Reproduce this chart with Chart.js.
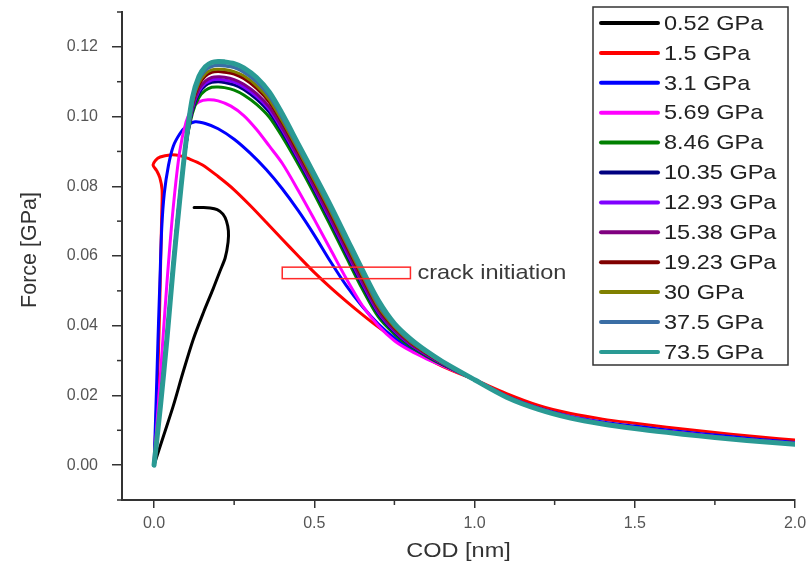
<!DOCTYPE html>
<html>
<head>
<meta charset="utf-8">
<script src="https://cdn.jsdelivr.net/npm/chart.js@4.4.1/dist/chart.umd.min.js"></script>
<style>
  html, body { margin: 0; padding: 0; background: #ffffff; }
  #wrap { width: 808px; height: 579px; }
</style>
</head>
<body>
<div id="wrap"><canvas id="chart" width="808" height="579"></canvas></div>
<script>
// Force vs. crack opening displacement for several stiffness values

const seriesLabels = ['0.52 GPa', '1.5 GPa', '3.1 GPa', '5.69 GPa', '8.46 GPa', '10.35 GPa',
                      '12.93 GPa', '15.38 GPa', '19.23 GPa', '30 GPa', '37.5 GPa', '73.5 GPa'];

// COD [nm] / Force [GPa] samples per curve
const cod_052   = [0, 0.03, 0.06, 0.09, 0.122, 0.155, 0.184, 0.205, 0.222, 0.231, 0.232, 0.226, 0.215, 0.197, 0.175, 0.150, 0.125];
const force_052 = [0, 0.0085, 0.0170, 0.0265, 0.0360, 0.0440, 0.0505, 0.0555, 0.0595, 0.0640, 0.0672, 0.0700, 0.0720, 0.0733, 0.0738, 0.0739, 0.0739];

const cod_15   = [0, 0.006, 0.012, 0.017, 0.021, 0.024, 0.025, 0.018, 0.008, -0.003, 0.005, 0.019, 0.05, 0.08, 0.106, 0.15, 0.20, 0.25, 0.30, 0.35, 0.40,
                  0.45, 0.50, 0.55, 0.60, 0.65, 0.70, 0.75, 0.80, 0.90, 1.0, 1.1, 1.2, 1.3, 1.4, 1.5, 1.6, 1.7, 1.8, 1.9, 2.0];
const force_15 = [0, 0.012, 0.027, 0.043, 0.060, 0.072, 0.079, 0.0825, 0.0845, 0.0861, 0.0875, 0.0884, 0.0890, 0.0888, 0.0880, 0.0862, 0.0828, 0.0790, 0.0745, 0.0697, 0.0648,
                  0.0600, 0.0553, 0.0510, 0.0470, 0.0432, 0.0396, 0.0363, 0.0333, 0.0283, 0.0245, 0.0205, 0.0171, 0.0148, 0.0132, 0.0120, 0.0109, 0.0099, 0.0089, 0.0080, 0.0072];

const cod_31   = [0, 0.005, 0.010, 0.014, 0.018, 0.024, 0.032, 0.045, 0.06, 0.08, 0.10, 0.128, 0.16, 0.20, 0.25, 0.30, 0.35, 0.40, 0.45, 0.50,
                  0.55, 0.60, 0.65, 0.70, 0.75, 0.80, 0.90, 1.0, 1.1, 1.2, 1.3, 1.4, 1.5, 1.6, 1.7, 1.8, 1.9, 2.0];
const force_31 = [0, 0.014, 0.029, 0.041, 0.052, 0.068, 0.078, 0.086, 0.0915, 0.0950, 0.0972, 0.0985, 0.0980, 0.0965, 0.0935, 0.0895, 0.0848, 0.0793, 0.0730, 0.0660,
                  0.0585, 0.0515, 0.0455, 0.0405, 0.0365, 0.0335, 0.0288, 0.0245, 0.0198, 0.0164, 0.0140, 0.0124, 0.0112, 0.0101, 0.0091, 0.0082, 0.0073, 0.0065];

const cod_569   = [0, 0.02, 0.04, 0.06, 0.08, 0.10, 0.12, 0.14, 0.168, 0.20, 0.24, 0.28, 0.32, 0.36, 0.40, 0.45, 0.50, 0.55, 0.60, 0.65,
                   0.70, 0.75, 0.80, 0.85, 0.90, 1.0, 1.1, 1.2, 1.3, 1.4, 1.5, 1.6, 1.7, 1.8, 1.9, 2.0];
const force_569 = [0, 0.026, 0.052, 0.074, 0.090, 0.0985, 0.1025, 0.1042, 0.1048, 0.1045, 0.1030, 0.1003, 0.0963, 0.0915, 0.0866, 0.0788, 0.0705, 0.0620, 0.0535, 0.0458,
                   0.0400, 0.0357, 0.0328, 0.0305, 0.0285, 0.0246, 0.0197, 0.0163, 0.0138, 0.0121, 0.0108, 0.0097, 0.0087, 0.0078, 0.0070, 0.0063];

// the stiffer materials share one COD grid
const cod_stiff = [0, 0.02, 0.04, 0.06, 0.08, 0.10, 0.12, 0.14, 0.16, 0.18, 0.20, 0.22, 0.25, 0.28, 0.32, 0.36, 0.40, 0.45, 0.50, 0.55,
                   0.60, 0.65, 0.70, 0.75, 0.80, 0.85, 0.90, 1.0, 1.1, 1.2, 1.3, 1.4, 1.5, 1.6, 1.7, 1.8, 1.9, 2.0];
const force_846  = [0, 0.018, 0.037, 0.058, 0.077, 0.092, 0.101, 0.1055, 0.1075, 0.1084, 0.1085, 0.1083, 0.1076, 0.1062, 0.1035, 0.0998, 0.0942, 0.0863, 0.0778, 0.0688,
                    0.0596, 0.0505, 0.0425, 0.0376, 0.0340, 0.0312, 0.0288, 0.0245, 0.0197, 0.0162, 0.0137, 0.0120, 0.0107, 0.0096, 0.0086, 0.0077, 0.0069, 0.0062];
const force_1035 = [0, 0.0178, 0.0368, 0.0578, 0.0768, 0.0922, 0.1019, 0.1067, 0.1089, 0.1098, 0.1100, 0.1098, 0.1091, 0.1078, 0.1050, 0.1012, 0.0955, 0.0875, 0.0789, 0.0700,
                    0.0607, 0.0516, 0.0434, 0.0382, 0.0344, 0.0315, 0.0290, 0.0245, 0.0197, 0.0162, 0.0137, 0.0120, 0.0107, 0.0096, 0.0086, 0.0077, 0.0069, 0.0062];
const force_1293 = [0, 0.0178, 0.0368, 0.0578, 0.0768, 0.0922, 0.1024, 0.1073, 0.1095, 0.1105, 0.1107, 0.1105, 0.1099, 0.1085, 0.1058, 0.1020, 0.0962, 0.0880, 0.0795, 0.0705,
                    0.0613, 0.0522, 0.0438, 0.0385, 0.0346, 0.0317, 0.0291, 0.0245, 0.0197, 0.0162, 0.0137, 0.0120, 0.0107, 0.0096, 0.0086, 0.0077, 0.0069, 0.0062];
const force_1538 = [0, 0.0178, 0.0368, 0.0578, 0.0768, 0.0922, 0.1028, 0.1079, 0.1102, 0.1112, 0.1114, 0.1113, 0.1106, 0.1093, 0.1066, 0.1027, 0.0968, 0.0886, 0.0800, 0.0711,
                    0.0619, 0.0527, 0.0442, 0.0388, 0.0348, 0.0318, 0.0292, 0.0245, 0.0197, 0.0162, 0.0137, 0.0120, 0.0107, 0.0096, 0.0086, 0.0077, 0.0069, 0.0062];
const force_1923 = [0, 0.0177, 0.0367, 0.0577, 0.0767, 0.0923, 0.1037, 0.1091, 0.1116, 0.1127, 0.1129, 0.1127, 0.1122, 0.1109, 0.1081, 0.1041, 0.0982, 0.0898, 0.0812, 0.0723,
                    0.0630, 0.0538, 0.0451, 0.0394, 0.0352, 0.0321, 0.0293, 0.0245, 0.0196, 0.0161, 0.0136, 0.0119, 0.0106, 0.0095, 0.0085, 0.0076, 0.0068, 0.0061];
const force_30   = [0, 0.0176, 0.0366, 0.0576, 0.0766, 0.0924, 0.1042, 0.1097, 0.1123, 0.1134, 0.1136, 0.1135, 0.1129, 0.1117, 0.1089, 0.1048, 0.0988, 0.0904, 0.0817, 0.0729,
                    0.0636, 0.0544, 0.0455, 0.0397, 0.0354, 0.0323, 0.0294, 0.0245, 0.0196, 0.0161, 0.0136, 0.0119, 0.0106, 0.0095, 0.0085, 0.0076, 0.0068, 0.0061];
const force_375  = [0, 0.0175, 0.0365, 0.0575, 0.0765, 0.0925, 0.1048, 0.1106, 0.1133, 0.1144, 0.1147, 0.1146, 0.1141, 0.1128, 0.1100, 0.1059, 0.0998, 0.0912, 0.0826, 0.0737,
                    0.0644, 0.0552, 0.0462, 0.0402, 0.0357, 0.0325, 0.0296, 0.0245, 0.0196, 0.0161, 0.0136, 0.0119, 0.0106, 0.0095, 0.0085, 0.0076, 0.0068, 0.0061];
const force_735  = [0, 0.017, 0.036, 0.057, 0.076, 0.093, 0.1055, 0.1115, 0.1143, 0.1155, 0.1158, 0.1157, 0.1152, 0.1140, 0.1112, 0.1070, 0.1008, 0.0921, 0.0834, 0.0746,
                    0.0653, 0.0560, 0.0472, 0.0406, 0.0362, 0.0327, 0.0297, 0.0245, 0.0195, 0.0160, 0.0135, 0.0118, 0.0105, 0.0094, 0.0084, 0.0075, 0.0067, 0.0060];

// axis ticks
const xMajorTicks = [0, 0.5, 1.0, 1.5, 2.0];
const xMinorTicks = [0.25, 0.75, 1.25, 1.75];
const yMajorTicks = [0, 0.02, 0.04, 0.06, 0.08, 0.10, 0.12];
const yMinorTicks = [-0.01, 0.01, 0.03, 0.05, 0.07, 0.09, 0.11, 0.13];

// marked region for crack initiation
const crackCod   = [0.4, 0.8];
const crackForce = [0.0535, 0.0568];
const crackText  = 'crack initiation';

const curves = [
  [cod_052, force_052], [cod_15, force_15], [cod_31, force_31], [cod_569, force_569],
  [cod_stiff, force_846], [cod_stiff, force_1035], [cod_stiff, force_1293], [cod_stiff, force_1538],
  [cod_stiff, force_1923], [cod_stiff, force_30], [cod_stiff, force_375], [cod_stiff, force_735]
];

const lineColors = ['#000000', '#ff0000', '#0000ff', '#ff00ff', '#008000', '#000080',
                    '#8000ff', '#800080', '#800000', '#808000', '#3a6ea5', '#2a9a94'];
const lineWidths = [3, 3, 3, 3, 3, 3, 3, 3, 3, 3, 3.5, 5];

const FONT = '"Liberation Sans", Arial, Helvetica, sans-serif';

// text drawn slightly widened, the way the labels of this figure are set
function wideText(ctx, text, x, y, size, stretch, align) {
  ctx.save();
  ctx.font = size + 'px ' + FONT;
  ctx.textBaseline = 'middle';
  ctx.textAlign = 'left';
  const w = ctx.measureText(text).width * stretch;
  let left = x;
  if (align === 'center') left = x - w / 2;
  ctx.translate(left, y);
  ctx.scale(stretch, 1);
  ctx.fillText(text, 0, 0);
  ctx.restore();
}

const datasets = curves.map(([xs, ys], i) => ({
  label: seriesLabels[i],
  data: xs.map((x, k) => ({ x: x, y: ys[k] })),
  showLine: true,
  borderColor: lineColors[i],
  backgroundColor: lineColors[i],
  borderWidth: lineWidths[i],
  pointRadius: 0,
  tension: 0.3,
  borderJoinStyle: 'round',
  borderCapStyle: 'round',
  order: curves.length - 1 - i
}));

const decor = {
  id: 'decor',
  afterDatasetsDraw(chart) {
    const ctx = chart.ctx, sx = chart.scales.x, sy = chart.scales.y;
    ctx.save();
    // crack initiation marker
    const x0 = sx.getPixelForValue(crackCod[0]), x1 = sx.getPixelForValue(crackCod[1]);
    const y0 = sy.getPixelForValue(crackForce[1]), y1 = sy.getPixelForValue(crackForce[0]);
    ctx.strokeStyle = '#ff2a2a';
    ctx.lineWidth = 1.5;
    ctx.strokeRect(x0, y0, x1 - x0, y1 - y0);
    ctx.fillStyle = '#3a3a3a';
    wideText(ctx, crackText, x1 + 7, (y0 + y1) / 2, 21, 1.12, 'left');
    ctx.restore();
  },
  afterDraw(chart) {
    const ctx = chart.ctx, sx = chart.scales.x, sy = chart.scales.y, area = chart.chartArea;
    ctx.save();
    // minor ticks
    ctx.strokeStyle = '#333333';
    ctx.lineWidth = 1.5;
    yMinorTicks.forEach(v => {
      const p = sy.getPixelForValue(v);
      ctx.beginPath(); ctx.moveTo(area.left, p); ctx.lineTo(area.left - 5, p); ctx.stroke();
    });
    xMinorTicks.forEach(v => {
      const p = sx.getPixelForValue(v);
      ctx.beginPath(); ctx.moveTo(p, area.bottom); ctx.lineTo(p, area.bottom + 5); ctx.stroke();
    });

    // axis titles
    ctx.fillStyle = '#333333';
    wideText(ctx, 'COD [nm]', (area.left + area.right) / 2, 551, 21, 1.12, 'center');
    ctx.save();
    ctx.translate(30, 250);
    ctx.rotate(-Math.PI / 2);
    ctx.font = '21.5px ' + FONT;
    ctx.textAlign = 'center';
    ctx.textBaseline = 'middle';
    ctx.fillText('Force [GPa]', 0, 0);
    ctx.restore();

    // legend box
    const bx = 593, by = 7, bw = 195, bh = 358, rowH = 29.9;
    ctx.fillStyle = '#ffffff';
    ctx.fillRect(bx, by, bw, bh);
    ctx.strokeStyle = '#333333';
    ctx.lineWidth = 1.5;
    ctx.strokeRect(bx, by, bw, bh);
    chart.data.datasets.forEach((ds, i) => {
      const cy = by + 16 + i * rowH;
      ctx.strokeStyle = ds.borderColor;
      ctx.lineWidth = 4;
      ctx.lineCap = 'round';
      ctx.beginPath(); ctx.moveTo(bx + 8, cy); ctx.lineTo(bx + 65, cy); ctx.stroke();
      ctx.fillStyle = '#222222';
      wideText(ctx, ds.label, bx + 71, cy + 1, 21, 1.12, 'left');
    });
    ctx.restore();
  }
};

new Chart(document.getElementById('chart'), {
  type: 'scatter',
  data: { datasets: datasets },
  options: {
    responsive: false,
    animation: false,
    devicePixelRatio: 1,
    layout: { padding: { left: 0, top: 12, right: 13, bottom: 0 } },
    plugins: { legend: { display: false }, tooltip: { enabled: false } },
    scales: {
      x: {
        type: 'linear', min: -0.1, max: 2.0,
        afterBuildTicks: s => { s.ticks = xMajorTicks.map(v => ({ value: v })); },
        afterFit: s => { s.height = 79; s.paddingLeft = 0; s.paddingRight = 0; },
        ticks: { callback: v => Number(v).toFixed(1), font: { family: FONT, size: 16 }, color: '#555555', padding: 6, maxRotation: 0 },
        grid: { drawOnChartArea: false, tickLength: 8, color: '#333333', lineWidth: 1.5 },
        border: { color: '#333333', width: 2 }
      },
      y: {
        type: 'linear', min: -0.01, max: 0.13,
        afterBuildTicks: s => { s.ticks = yMajorTicks.map(v => ({ value: v })); },
        afterFit: s => { s.width = 122; s.paddingTop = 0; s.paddingBottom = 0; },
        ticks: { callback: v => Number(v).toFixed(2), font: { family: FONT, size: 16 }, color: '#555555', padding: 14 },
        grid: { drawOnChartArea: false, tickLength: 10, color: '#333333', lineWidth: 1.5 },
        border: { color: '#333333', width: 2 }
      }
    }
  },
  plugins: [decor]
});
</script>
</body>
</html>
